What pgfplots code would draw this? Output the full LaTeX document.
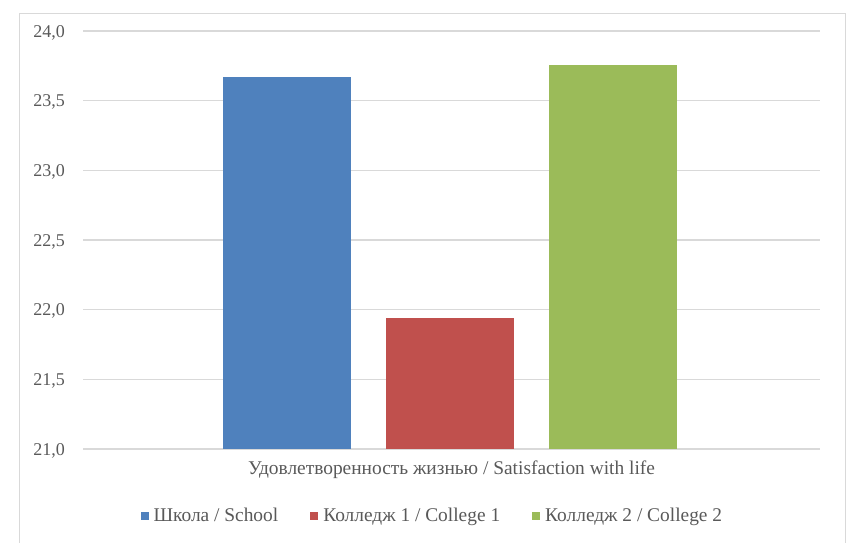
\documentclass[border=0pt]{standalone}
\usepackage{fontspec}
\setmainfont{Liberation Serif}
\usepackage{pgfplots}
\pgfplotsset{compat=1.18}
\definecolor{cBlue}{HTML}{4F81BD}
\definecolor{cRed}{HTML}{C0504D}
\definecolor{cGreen}{HTML}{9BBB59}
\definecolor{cGrid}{HTML}{D9D9D9}
\definecolor{cText}{HTML}{595959}
\newcommand{\lab}{\fontsize{19.4}{22}\selectfont}
\newcommand{\tlab}{\fontsize{18}{20}\selectfont}
\begin{document}
\begin{tikzpicture}[x=1pt,y=1pt]
\useasboundingbox (0,0) rectangle (864,543);
\draw[cGrid, line width=1pt] (19,0) -- (19,529) -- (845,529) -- (845,0);
\begin{axis}[
    at={(83pt,94pt)}, anchor=south west,
    scale only axis, width=737pt, height=418pt,
    ybar=35pt, bar width=128pt,
    xmin=-0.9946, xmax=1.0054, xtick=\empty,
    ymin=21, ymax=24, ytick={21,21.5,...,24},
    ymajorgrids, grid style={cGrid, line width=1.5pt},
    axis line style={draw=none}, major tick length=0pt,
    /pgf/number format/.cd, fixed, fixed zerofill, precision=1, use comma, assume math mode=true,
    /pgfplots/.cd,
    yticklabel style={font=\tlab, text=cText, inner xsep=0pt, xshift=-18pt, yshift=-1.5pt},
    xlabel={Удовлетворенность жизнью / Satisfaction with life},
    xlabel style={font=\lab, text=cText, at={(axis description cs:0.5,-0.05)}, anchor=center},
    legend columns=3,
    legend style={draw=none, font=\lab, text=cText, at={(axis description cs:0.474,-0.16)}, anchor=center,
        /tikz/every even column/.append style={column sep=30pt}},
    legend image code/.code={\fill[#1] (0pt,-4pt) rectangle (8pt,4pt);},
    legend style={/tikz/every odd column/.append style={column sep=3pt}},
]
\addplot[fill=cBlue, draw=none] coordinates {(0,23.672)};
\addplot[fill=cRed, draw=none] coordinates {(0,21.943)};
\addplot[fill=cGreen, draw=none] coordinates {(0,23.758)};
\legend{Школа / School, Колледж 1 / College 1, Колледж 2 / College 2}
\end{axis}
\end{tikzpicture}
\end{document}
